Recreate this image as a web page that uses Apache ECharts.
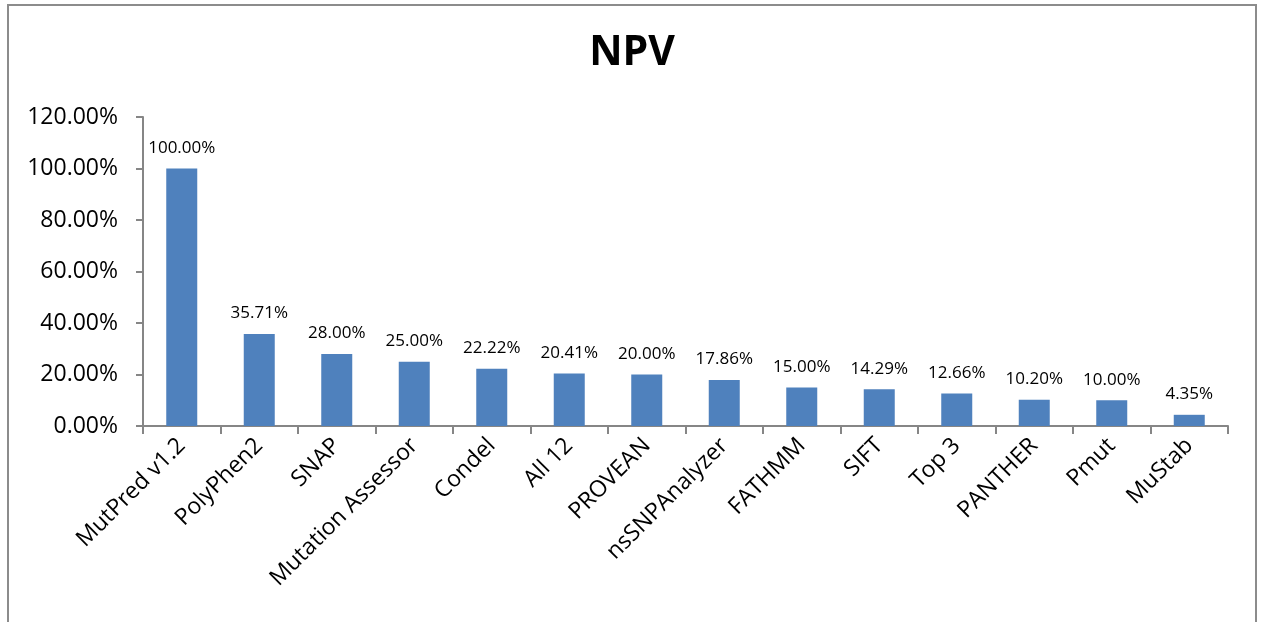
<!DOCTYPE html>
<html>
<head>
<meta charset="utf-8">
<script src="https://cdn.jsdelivr.net/npm/echarts@6/dist/echarts.min.js"></script>
<style>
    html, body { margin: 0; padding: 0; background: #fff; }
    #chart { width: 1264px; height: 622px; }
</style>
</head>
<body>
<div id="chart"></div>
<script>
// data
let categories = ['MutPred v1.2', 'PolyPhen2', 'SNAP', 'Mutation Assessor', 'Condel', 'All 12', 'PROVEAN',
    'nsSNPAnalyzer', 'FATHMM', 'SIFT', 'Top 3', 'PANTHER', 'Pmut', 'MuStab']
let npvValues = [100.00, 35.71, 28.00, 25.00, 22.22, 20.41, 20.00, 17.86, 15.00, 14.29, 12.66, 10.20, 10.00, 4.35]

let myChart = echarts.init(document.getElementById('chart'))
let font = '"Open Sans", "Liberation Sans", sans-serif'
let axisGrey = '#868686'

let option = {
    animation: false,
    graphic: [{
        type: 'rect',
        shape: { x: 8, y: 5, width: 1248, height: 700 },
        style: { fill: 'none', stroke: '#8c8c8c', lineWidth: 2 },
        silent: true
    }],
    title: {
        text: 'NPV',
        left: 'center',
        top: 28,
        textStyle: { fontFamily: font, fontSize: 41, fontWeight: 'bold', color: '#000' }
    },
    grid: { left: 143, right: 36, top: 117, bottom: 196 },
    xAxis: {
        type: 'category',
        data: categories,
        axisLine: { lineStyle: { color: axisGrey, width: 2 } },
        axisTick: { show: true, length: 8, lineStyle: { color: axisGrey, width: 2 } },
        axisLabel: {
            rotate: 45, interval: 0, margin: 16,
            fontFamily: font, fontSize: 23, color: '#000'
        }
    },
    yAxis: {
        type: 'value',
        min: 0, max: 120, interval: 20,
        splitLine: { show: false },
        axisLine: { show: true, lineStyle: { color: axisGrey, width: 2 } },
        axisTick: { show: true, length: 7, lineStyle: { color: axisGrey, width: 2 } },
        axisLabel: {
            margin: 25,
            fontFamily: font, fontSize: 23, color: '#000',
            formatter: function (v) { return v.toFixed(2) + '%' }
        }
    },
    series: [{
        type: 'bar',
        data: npvValues,
        barWidth: '40%',
        itemStyle: { color: '#4F81BD' },
        label: {
            show: true,
            position: 'top',
            distance: 12,
            fontFamily: font, fontSize: 17, color: '#000',
            formatter: function (p) { return p.value.toFixed(2) + '%' }
        }
    }]
}
myChart.setOption(option)
window.addEventListener('resize', function () { myChart.resize() })
</script>
</body>
</html>
